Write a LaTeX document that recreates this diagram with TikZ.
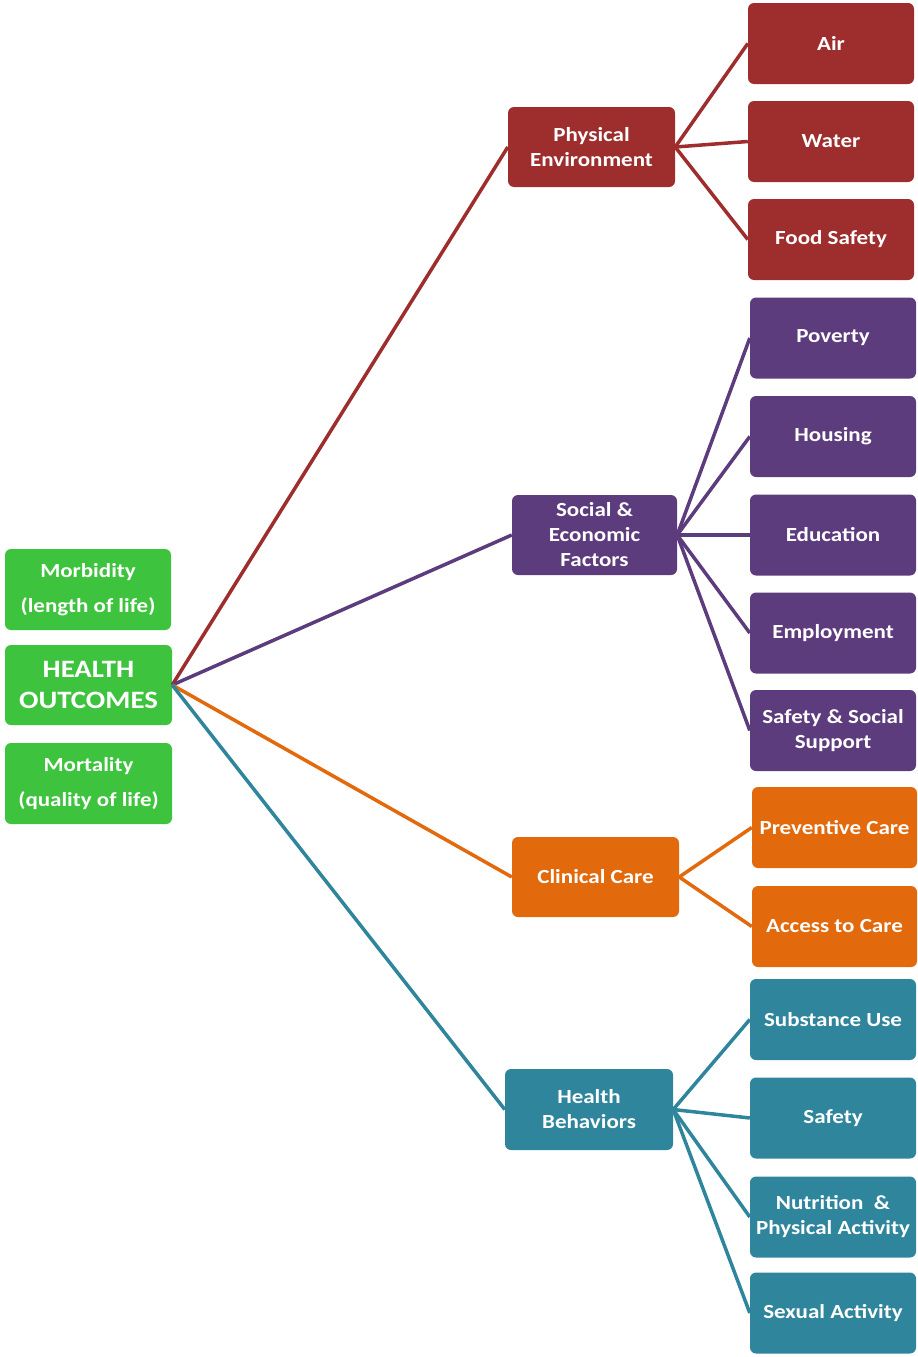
\documentclass[tikz,border=0pt]{standalone}
\usepackage{fontspec}
\setmainfont{Carlito}[FakeStretch=1.15]
\definecolor{cred}{HTML}{9E2E2E}
\definecolor{cpurple}{HTML}{5D3C7E}
\definecolor{corange}{HTML}{E3690D}
\definecolor{cteal}{HTML}{2F859C}
\definecolor{cgreen}{HTML}{3EC33E}
\tikzset{
  box/.style={rounded corners=6pt, text=white, align=center, inner sep=0pt,
    minimum width=166pt, minimum height=81pt,
    font=\bfseries\fontsize{20}{25}\selectfont},
  gbox/.style={box, fill=cgreen, font=\bfseries\fontsize{20}{35}\selectfont},
  link/.style={line width=3.5pt}
}
\begin{document}
\begin{tikzpicture}[x=1pt,y=-1pt]
\useasboundingbox (0,0) rectangle (918,1357);
% left
\node[gbox] (morb) at (88,589.5) {Morbidity\\(length of life)};
\node[box, fill=cgreen, minimum width=167pt, minimum height=80pt, font=\bfseries\fontsize{25}{31}\selectfont] (ho) at (88.5,685) {HEALTH\\OUTCOMES};
\node[gbox, minimum width=167pt] (mort) at (88.5,783.5) {Mortality\\(quality of life)};
% parents
\node[box, fill=cred, minimum width=167pt, minimum height=80pt] (pe) at (591.5,147) {Physical\\Environment};
\node[box, fill=cpurple, minimum width=165pt, minimum height=80pt] (se) at (594.5,535) {Social \&\\Economic\\Factors};
\node[box, fill=corange, minimum width=167pt, minimum height=80pt] (cc) at (595.5,877) {Clinical Care};
\node[box, fill=cteal, minimum width=168pt, minimum height=81pt] (hb) at (589,1109.5) {Health\\Behaviors};
% children
\node[box, fill=cred] (air) at (831,43.5) {Air};
\node[box, fill=cred] (water) at (831,141.5) {Water};
\node[box, fill=cred] (food) at (831,239.5) {Food Safety};
\node[box, fill=cpurple] (pov) at (833,338) {Poverty};
\node[box, fill=cpurple] (hous) at (833,436.5) {Housing};
\node[box, fill=cpurple] (edu) at (833,535) {Education};
\node[box, fill=cpurple] (emp) at (833,633) {Employment};
\node[box, fill=cpurple] (ssup) at (833,730.5) {Safety \& Social\\Support};
\node[box, fill=corange, minimum width=165pt] (prev) at (834.5,827.5) {Preventive Care};
\node[box, fill=corange, minimum width=165pt] (acc) at (834.5,926.5) {Access to Care};
\node[box, fill=cteal] (subst) at (833,1019.5) {Substance Use};
\node[box, fill=cteal] (safe) at (833,1118) {Safety};
\node[box, fill=cteal] (nutr) at (833,1217) {Nutrition \ \&\\Physical Activity};
\node[box, fill=cteal] (sex) at (833,1313) {Sexual Activity};
% connectors
\draw[link, draw=cred] (ho.east) -- (pe.west);
\draw[link, draw=cpurple] (ho.east) -- (se.west);
\draw[link, draw=corange] (ho.east) -- (cc.west);
\draw[link, draw=cteal] (ho.east) -- (hb.west);
\foreach \c in {air,water,food} \draw[link, draw=cred] (pe.east) -- (\c.west);
\foreach \c in {pov,hous,edu,emp,ssup} \draw[link, draw=cpurple] (se.east) -- (\c.west);
\foreach \c in {prev,acc} \draw[link, draw=corange] (cc.east) -- (\c.west);
\foreach \c in {subst,safe,nutr,sex} \draw[link, draw=cteal] (hb.east) -- (\c.west);
\end{tikzpicture}
\end{document}
